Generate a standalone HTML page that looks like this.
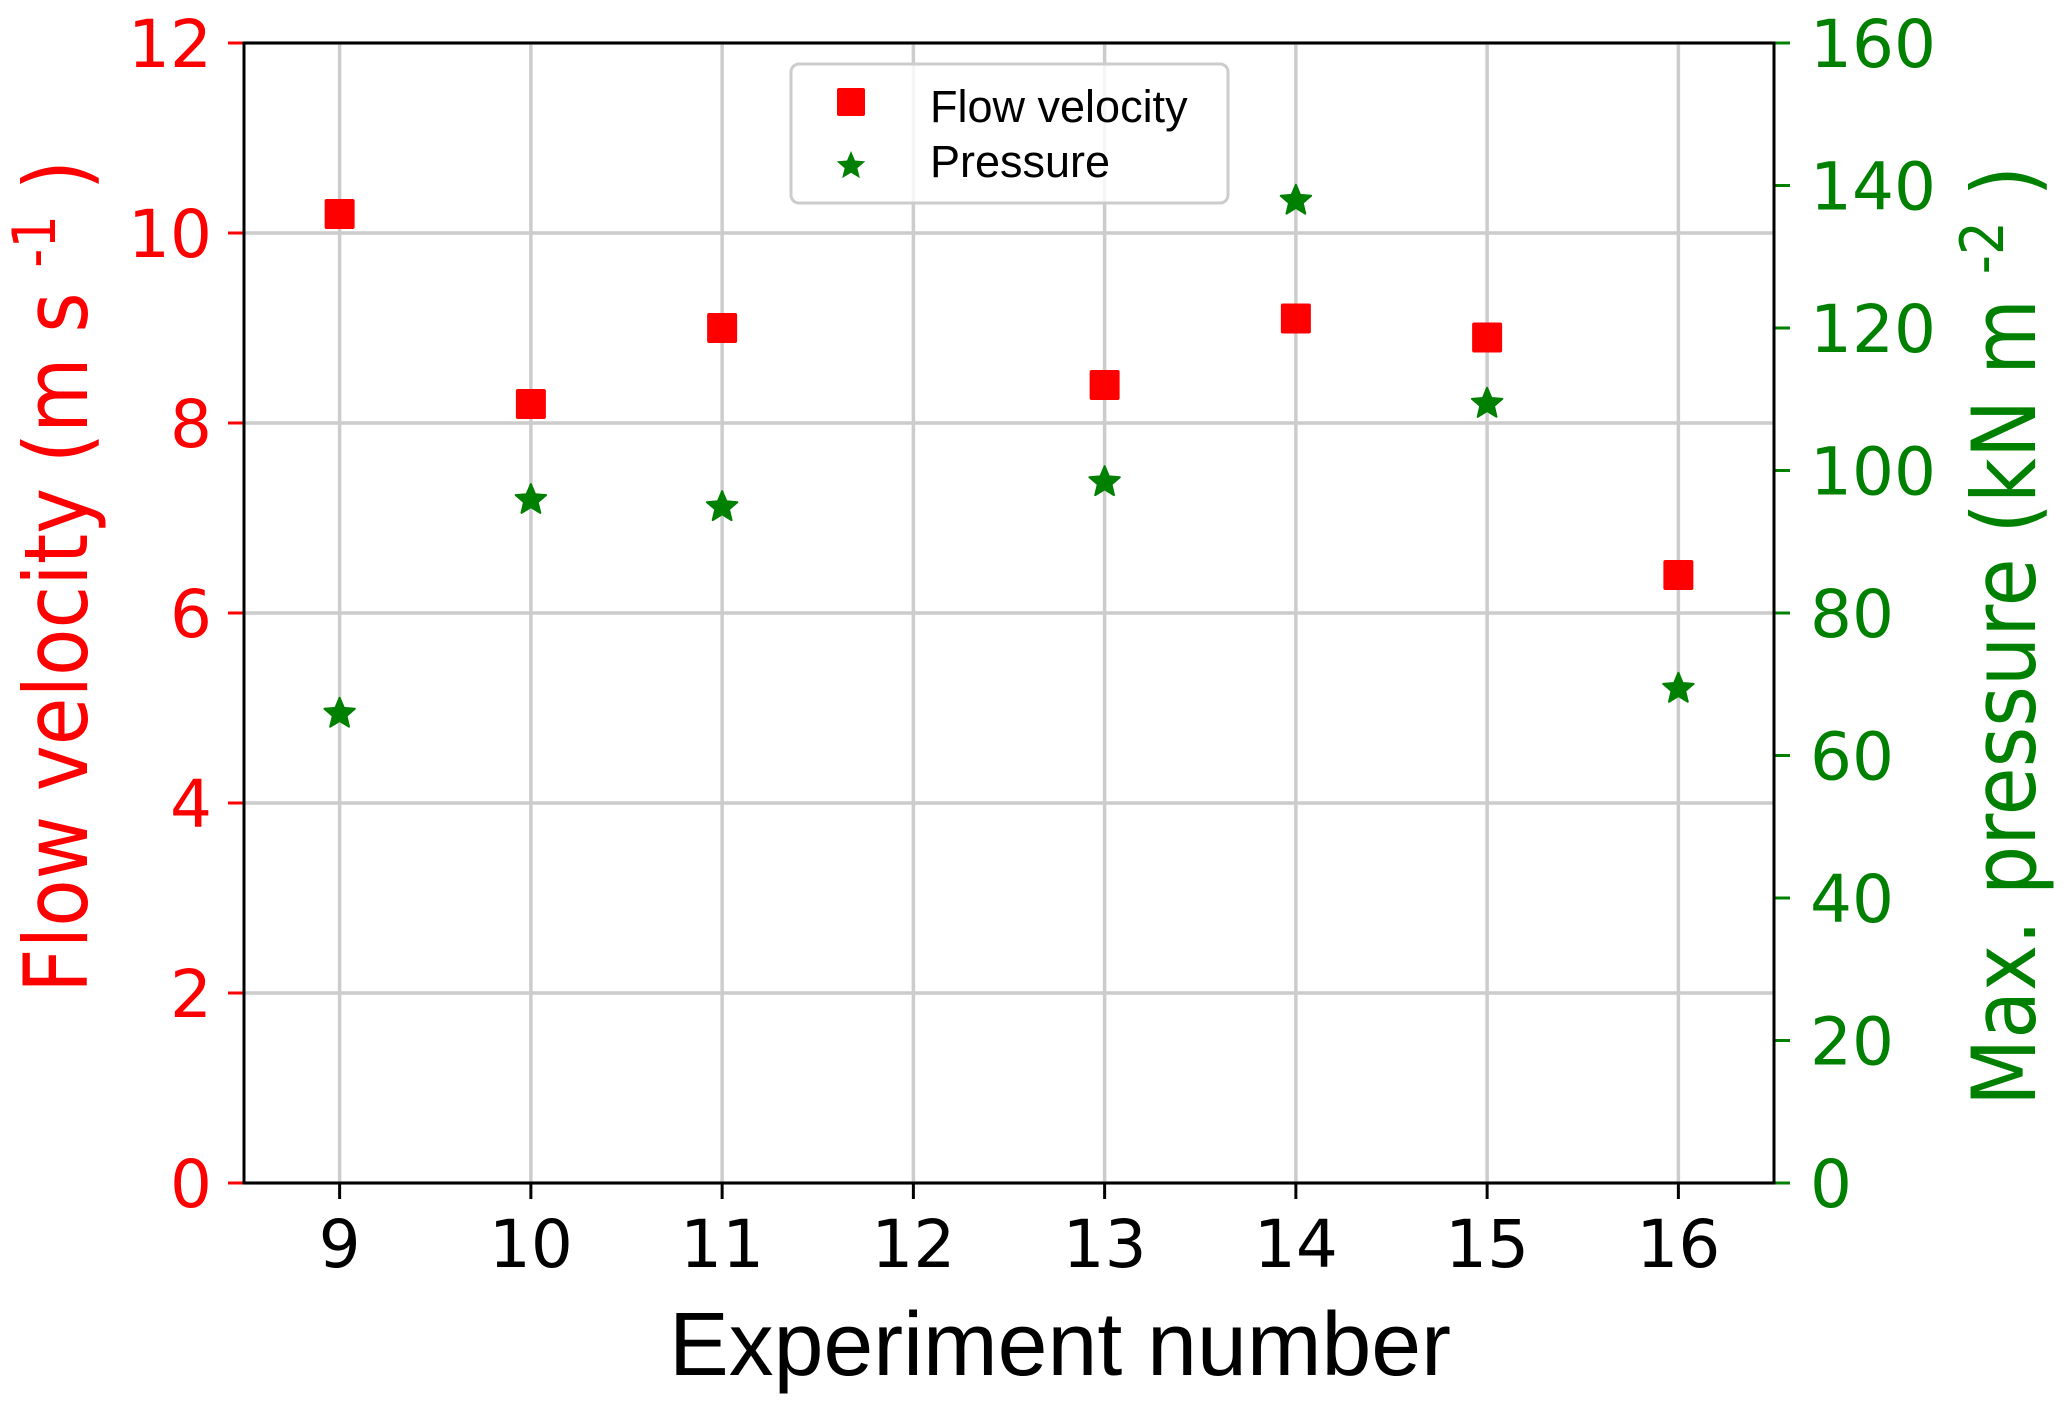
<!DOCTYPE html>
<html><head><meta charset="utf-8"><style>
html,body{margin:0;padding:0;background:#fff;}
svg{display:block;font-family:"DejaVu Sans","Liberation Sans",sans-serif;}
</style></head><body>
<svg id="chart" width="2067" height="1410" viewBox="0 0 2067 1410" xmlns="http://www.w3.org/2000/svg">
<g id="grid"></g>
<g id="axes"></g>
<g id="marks"></g>
<text x="1060" y="1375" font-size="90" text-anchor="middle" fill="#000" font-family="Liberation Sans, sans-serif" textLength="782" lengthAdjust="spacingAndGlyphs">Experiment number</text>
<text transform="translate(87,993) rotate(-90)" font-size="88" fill="#ff0000" textLength="833" lengthAdjust="spacingAndGlyphs">Flow velocity  (m s <tspan font-size="60" dy="-32">-1</tspan><tspan dy="32"> )</tspan></text>
<text transform="translate(2035,1106) rotate(-90)" font-size="88" fill="#008000" textLength="940" lengthAdjust="spacingAndGlyphs">Max. pressure (kN m <tspan font-size="60" dy="-32">-2</tspan><tspan dy="32"> )</tspan></text>
<g>
<rect x="791" y="64" width="437" height="139" rx="8" fill="#fff" fill-opacity="0.8" stroke="#cccccc" stroke-width="3"/>
<rect x="837" y="88" width="28" height="28" rx="2" fill="#ff0000"/>
<text x="930" y="122" font-size="45" fill="#000" font-family="Liberation Sans, sans-serif">Flow velocity</text>
<path id="legstar" fill="#008000"/>
<text x="930" y="177" font-size="45" fill="#000" font-family="Liberation Sans, sans-serif">Pressure</text>
</g>
</svg>
<script>
const experiments = [9, 10, 11, 13, 14, 15, 16];
const flowVelocity = [10.2, 8.2, 9.0, 8.4, 9.1, 8.9, 6.4];
const maxPressure = [66, 96, 95, 98.5, 138, 109.5, 69.5];
const xTicks = [9, 10, 11, 12, 13, 14, 15, 16];
const leftTicks = [0, 2, 4, 6, 8, 10, 12];
const rightTicks = [0, 20, 40, 60, 80, 100, 120, 140, 160];

const NS = 'http://www.w3.org/2000/svg';
const L = 244, R = 1774, T = 43, B = 1183;
const xMin = 8.5, xMax = 16.5;
function xs(v){ return L + (v - xMin) / (xMax - xMin) * (R - L); }
function yl(v){ return B - v / 12 * (B - T); }
function yr(v){ return B - v / 160 * (B - T); }
function mk(tag, attrs, parent){ const e = document.createElementNS(NS, tag); for (const k in attrs) e.setAttribute(k, attrs[k]); parent.appendChild(e); return e; }
function starPath(cx, cy, r){
  let d = '';
  for (let i = 0; i < 10; i++) {
    const rr = i % 2 === 0 ? r : r * 0.45;
    const a = -Math.PI / 2 + i * Math.PI / 5;
    d += (i ? 'L' : 'M') + (cx + rr * Math.cos(a)).toFixed(1) + ' ' + (cy + rr * Math.sin(a)).toFixed(1);
  }
  return d + 'Z';
}
const grid = document.getElementById('grid');
const axes = document.getElementById('axes');
const marks = document.getElementById('marks');

xTicks.forEach(t => {
  const g = mk('line', {x1: xs(t), x2: xs(t), y1: T, y2: B, stroke: '#cccccc', 'stroke-width': 3.5}, grid);
  
  
  const tk = mk('line', {x1: xs(t), x2: xs(t), y1: B, y2: B + 16, stroke: '#000', 'stroke-width': 3}, axes);
  
  
  const lb = mk('text', {x: xs(t), y: 1267, 'font-size': 66, 'text-anchor': 'middle', fill: '#000'}, axes);
  lb.textContent = t;
  
  
});
leftTicks.forEach(t => {
  const g = mk('line', {x1: L, x2: R, y1: yl(t), y2: yl(t), stroke: '#cccccc', 'stroke-width': 3.5}, grid);
  
  
  const tk = mk('line', {x1: L - 16, x2: L, y1: yl(t), y2: yl(t), stroke: '#ff0000', 'stroke-width': 3}, axes);
  
  
  const lb = mk('text', {x: 212, y: yl(t) + 24, 'font-size': 66, 'text-anchor': 'end', fill: '#ff0000'}, axes);
  lb.textContent = t;
  
  
});
rightTicks.forEach(t => {
  const tk = mk('line', {x1: R, x2: R + 16, y1: yr(t), y2: yr(t), stroke: '#008000', 'stroke-width': 3}, axes);
  
  
  const lb = mk('text', {x: 1810, y: yr(t) + 24, 'font-size': 66, 'text-anchor': 'start', fill: '#008000'}, axes);
  lb.textContent = t;
  
  
});
const frame = mk('rect', {x: L, y: T, width: R - L, height: B - T, fill: 'none', stroke: '#000', 'stroke-width': 3}, axes);



experiments.forEach((e, i) => {
  const s = mk('rect', {x: xs(e) - 15, y: yl(flowVelocity[i]) - 15, width: 30, height: 30, rx: 2, fill: '#ff0000'}, marks);
  
  
});
experiments.forEach((e, i) => {
  const p = mk('path', {d: starPath(xs(e), yr(maxPressure[i]) + 1, 16), fill: '#008000', stroke: '#008000', 'stroke-width': 2, 'stroke-linejoin': 'round'}, marks);
  
  
});
document.getElementById('legstar').setAttribute('d', starPath(851, 166, 15));
</script>
</body></html>
